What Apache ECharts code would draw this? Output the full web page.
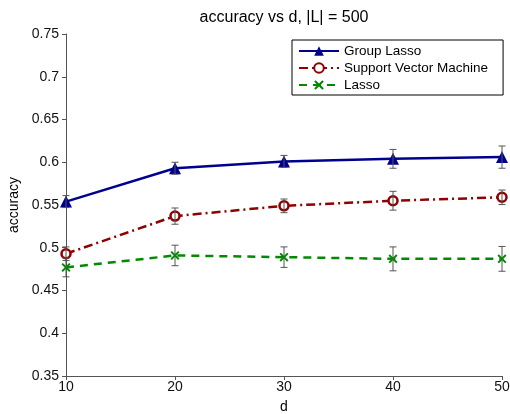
<!DOCTYPE html>
<html>
<head>
<meta charset="utf-8">
<script src="https://cdn.jsdelivr.net/npm/echarts@6/dist/echarts.min.js"></script>
<style>
html,body{margin:0;padding:0;background:#fff;}
#chart{width:510px;height:414px;}
</style>
</head>
<body>
<div id="chart"></div>
<script>
var dValues = [10, 20, 30, 40, 50];
var groupLasso = [0.554, 0.593, 0.601, 0.604, 0.606];
var groupLassoErr = [0.007, 0.007, 0.007, 0.011, 0.013];
var svm = [0.493, 0.537, 0.549, 0.555, 0.559];
var svmErr = [0.008, 0.0095, 0.008, 0.011, 0.0085];
var lasso = [0.477, 0.491, 0.489, 0.487, 0.487];
var lassoErr = [0.011, 0.012, 0.012, 0.014, 0.0145];
var seriesNames = ['Group Lasso', 'Support Vector Machine', 'Lasso'];
var titleText = 'accuracy vs d, |L| = 500';

var FONT = '"Liberation Sans", Arial, sans-serif';
var colors = ['#00008f', '#8f0000', '#008a00'];
var xPath = 'path://M1.5,0 L5,3.5 L8.5,0 L10,1.5 L6.5,5 L10,8.5 L8.5,10 L5,6.5 L1.5,10 L0,8.5 L3.5,5 L0,1.5 Z';

function pairs(vals){ return dValues.map(function(d,i){ return [d, vals[i]]; }); }
function errData(vals, errs){ return dValues.map(function(d,i){ return [d, vals[i]-errs[i], vals[i]+errs[i]]; }); }

function errRender(params, api){
  var x = api.value(0);
  var lo = api.coord([x, api.value(1)]);
  var hi = api.coord([x, api.value(2)]);
  var hw = 3.5;
  var st = {stroke:'#555', lineWidth:1};
  return {type:'group', children:[
    {type:'line', shape:{x1:lo[0],y1:lo[1],x2:hi[0],y2:hi[1]}, style:st},
    {type:'line', shape:{x1:lo[0]-hw,y1:lo[1],x2:lo[0]+hw,y2:lo[1]}, style:st},
    {type:'line', shape:{x1:hi[0]-hw,y1:hi[1],x2:hi[0]+hw,y2:hi[1]}, style:st}
  ]};
}

var chart = echarts.init(document.getElementById('chart'), null, {renderer:'canvas'});
chart.setOption({
  animation:false,
  backgroundColor:'#fff',
  textStyle:{fontFamily:FONT},
  title:{text:titleText, left:279, top:5, textAlign:'center',
    textStyle:{fontFamily:FONT, fontSize:16, fontWeight:'normal', color:'#000'}},
  grid:{left:66, right:8, top:34, bottom:38, containLabel:false, outerBoundsMode:'none'},
  legend:{
    data:seriesNames,
    left:292, top:40,
    orient:'vertical',
    itemWidth:40, itemHeight:12, itemGap:3,
    padding:[4,15,3,6],
    borderColor:'#000', borderWidth:1,
    backgroundColor:'#fff',
    textStyle:{fontFamily:FONT, fontSize:13.5, color:'#000'}
  },
  xAxis:{
    type:'value', min:10, max:50, interval:10,
    name:'d', nameLocation:'middle', nameGap:24,
    nameTextStyle:{fontFamily:FONT, fontSize:14, color:'#000'},
    axisLine:{lineStyle:{color:'#555', width:1}},
    axisTick:{inside:false, length:4, lineStyle:{color:'#555'}},
    axisLabel:{fontFamily:FONT, fontSize:14, color:'#111', margin:4},
    splitLine:{show:false}
  },
  yAxis:{
    type:'value', min:0.35, max:0.75, interval:0.05,
    name:'accuracy', nameLocation:'middle', nameGap:39, nameRotate:90,
    nameTextStyle:{fontFamily:FONT, fontSize:14, color:'#000'},
    axisLine:{show:true, lineStyle:{color:'#555', width:1}},
    axisTick:{show:true, inside:false, length:4, lineStyle:{color:'#555'}},
    axisLabel:{fontFamily:FONT, fontSize:14, color:'#111', margin:7,
      formatter:function(v){ return String(parseFloat(v.toFixed(2))); }},
    splitLine:{show:false}
  },
  series:[
    {name:seriesNames[0], type:'line', data:pairs(groupLasso), z:3,
      symbol:'triangle', symbolSize:12,
      lineStyle:{color:colors[0], width:2.5},
      itemStyle:{color:colors[0]}},
    {name:seriesNames[1], type:'line', data:pairs(svm), z:3,
      symbol:'circle', symbolSize:9,
      lineStyle:{color:colors[1], width:2.5, type:[9,4,2,4]},
      itemStyle:{color:'#fff', borderColor:colors[1], borderWidth:2.5}},
    {name:seriesNames[2], type:'line', data:pairs(lasso), z:3,
      symbol:xPath, symbolSize:9,
      lineStyle:{color:colors[2], width:2.5, type:[8,6]},
      itemStyle:{color:colors[2]}},
    {type:'custom', data:errData(groupLasso, groupLassoErr), renderItem:errRender, z:5, silent:true},
    {type:'custom', data:errData(svm, svmErr), renderItem:errRender, z:5, silent:true},
    {type:'custom', data:errData(lasso, lassoErr), renderItem:errRender, z:5, silent:true}
  ]
});
</script>
</body>
</html>
